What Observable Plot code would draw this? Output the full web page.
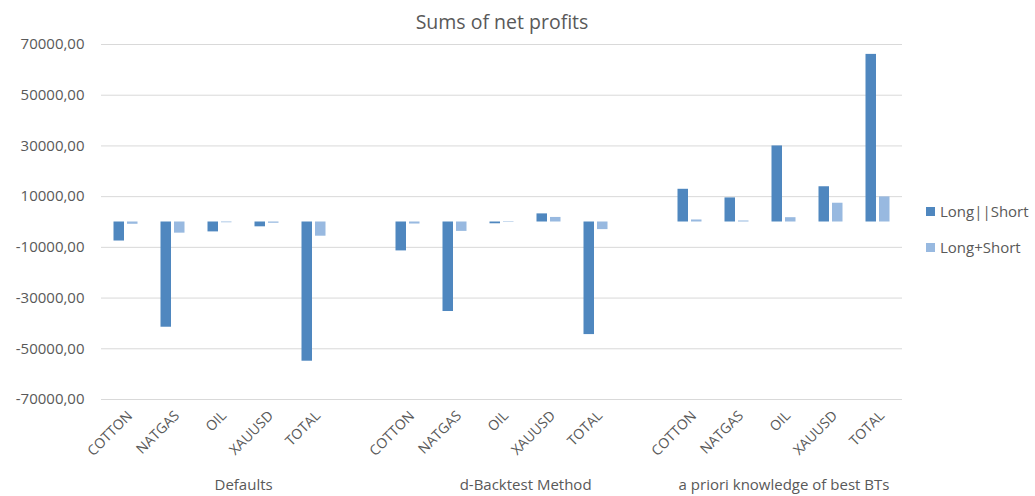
<!DOCTYPE html>
<html>
<head>
<meta charset="utf-8">
<script src="https://cdn.jsdelivr.net/npm/d3@7"></script>
<script src="https://cdn.jsdelivr.net/npm/@observablehq/plot@0.6"></script>
<style>
  html, body { margin: 0; padding: 0; background: #fff; }
  #wrap { position: relative; width: 1035px; height: 496px; font-family: "Open Sans", sans-serif; color: #595959; }
  #legend { position: absolute; left: 926px; top: 193px; font-size: 15px; }
  .item { display: flex; align-items: center; height: 36px; }
  .sw { width: 9px; height: 9px; margin-right: 5px; }
</style>
</head>
<body>
<div id="wrap"></div>
<script>
const groups = ["Defaults", "d-Backtest Method", "a priori knowledge of best BTs"];
const categories = ["COTTON", "NATGAS", "OIL", "XAUUSD", "TOTAL"];
const seriesNames = ["Long||Short", "Long+Short"];
const longOrShort = [
  [-7500, -41500, -3900, -1900, -54900],
  [-11400, -35300, -700, 3200, -44400],
  [12900, 9500, 30000, 13900, 66100]
];
const longPlusShort = [
  [-900, -4400, -300, -500, -5600],
  [-800, -3700, -200, 1800, -3000],
  [800, 400, 1700, 7400, 9900]
];
const yTicks = [-70000, -50000, -30000, -10000, 10000, 30000, 50000, 70000];
const colors = ["#4f87bf", "#98b9e0"];

// slots: 5 categories per group, with an empty slot between groups
const slots = [];
groups.forEach((g, gi) => {
  categories.forEach(c => slots.push(`${gi}|${c}`));
  if (gi < groups.length - 1) slots.push(`${gi}|`);
});

const rows = [];
groups.forEach((g, gi) => {
  categories.forEach((c, ci) => {
    rows.push({slot: `${gi}|${c}`, value: longOrShort[gi][ci], series: seriesNames[0]});
    rows.push({slot: `${gi}|${c}`, value: longPlusShort[gi][ci], series: seriesNames[1]});
  });
});

const labelSlots = slots.filter(k => k.split("|")[1] !== "");
const fmt = d => d.toFixed(2).replace(".", ",");

const chart = Plot.plot({
  width: 1035,
  height: 496,
  marginLeft: 101,
  marginRight: 133,
  marginTop: 44,
  marginBottom: 97,
  style: {fontFamily: "Open Sans, sans-serif", color: "#595959", background: "#fff"},
  x: {domain: slots, padding: 0, axis: null},
  y: {domain: [-70000, 70000], axis: null},
  marks: [
    Plot.gridY(yTicks, {stroke: "#d9d9d9", strokeOpacity: 1, strokeWidth: 1}),
    Plot.barY(rows.filter(d => d.series === seriesNames[0]), {x: "slot", y: "value", fill: colors[0], insetLeft: 11.5, insetRight: 25}),
    Plot.barY(rows.filter(d => d.series === seriesNames[1]), {x: "slot", y: "value", fill: colors[1], insetLeft: 25, insetRight: 11.5}),
    Plot.axisY(yTicks, {tickFormat: fmt, tickSize: 0, tickPadding: 17, fontSize: 15, fill: "#595959", label: null}),
    Plot.text(labelSlots, {x: d => d, text: d => d.split("|")[1], frameAnchor: "bottom", lineAnchor: "middle", textAnchor: "end", rotate: -45, dy: 14, dx: 4, fontSize: 14, fill: "#595959"}),
    Plot.text([groups[0], groups[1]], {x: (d, i) => `${i}|OIL`, frameAnchor: "bottom", lineAnchor: "middle", dy: 86, dx: 23.6, fontSize: 15, fill: "#595959"}),
    Plot.text([groups[2]], {x: () => `2|OIL`, frameAnchor: "bottom", lineAnchor: "middle", dy: 86, fontSize: 15, fill: "#595959"}),
    Plot.text(["Sums of net profits"], {frameAnchor: "top", lineAnchor: "middle", dy: -22, fontSize: 19.5, fill: "#595959"})
  ]
});

const wrap = document.getElementById("wrap");
wrap.appendChild(chart);
const legend = document.createElement("div");
legend.id = "legend";
seriesNames.forEach((s, i) => {
  const it = document.createElement("div");
  it.className = "item";
  it.innerHTML = `<span class="sw" style="background:${colors[i]}"></span><span>${s}</span>`;
  legend.appendChild(it);
});
wrap.appendChild(legend);
</script>
</body>
</html>
